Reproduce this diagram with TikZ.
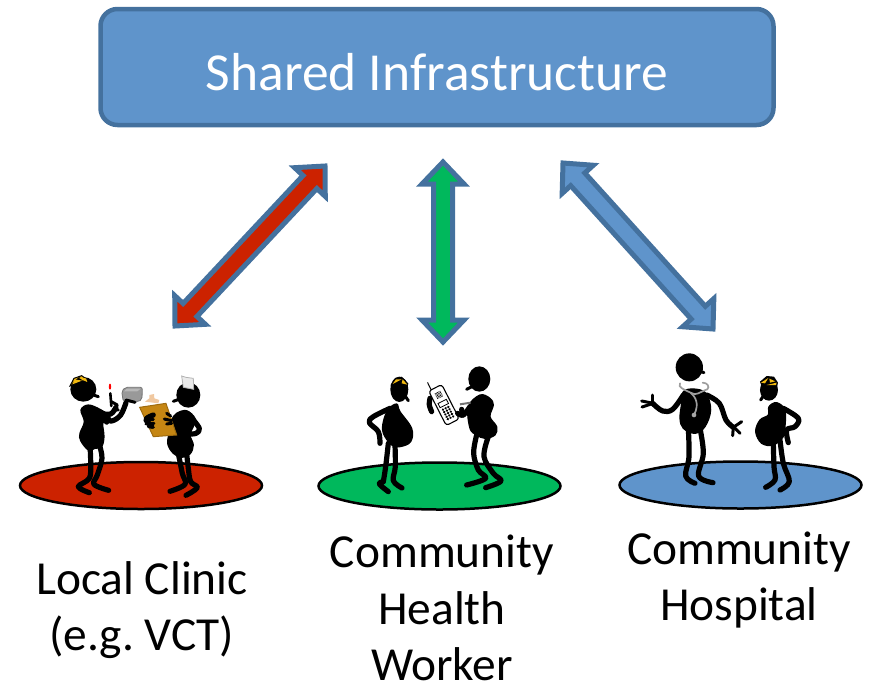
\documentclass[tikz,border=0pt]{standalone}
\usepackage{fontspec}
\setmainfont{Carlito}
\usetikzlibrary{calc,shapes.geometric}
\definecolor{boxblue}{HTML}{5F94CB}
\definecolor{edgeblue}{HTML}{44719E}
\definecolor{cred}{HTML}{CC2200}
\definecolor{cgreen}{HTML}{00B85C}
\definecolor{capy}{HTML}{F2B90F}
\definecolor{board}{HTML}{C58613}
\definecolor{peach}{HTML}{F0C8A0}
\tikzset{
  arrowline/.style={draw=edgeblue,line width=5pt,miter limit=10},
  disc/.style={draw=black,line width=2.5pt,ellipse,inner sep=0pt,minimum width=242pt,minimum height=47pt},
  limb/.style={line width=5.2pt,line cap=round,line join=round},
  thinlimb/.style={line width=3pt,line cap=round},
  steth/.style={draw=black!38,line width=1.7pt,line cap=round},
  lbl/.style={font=\fontsize{47.4}{56.5}\selectfont,align=center,text=black,inner sep=0pt},
}
\newcommand{\dblarrow}[3]{%
  \draw[arrowline,fill=#3] (#1)
    -- ($(#1)!22pt!(#2)!21pt!90:(#2)$)
    -- ($(#1)!22pt!(#2)!9.5pt!90:(#2)$)
    -- ($(#2)!22pt!(#1)!9.5pt!-90:(#1)$)
    -- ($(#2)!22pt!(#1)!21pt!-90:(#1)$)
    -- (#2)
    -- ($(#2)!22pt!(#1)!21pt!90:(#1)$)
    -- ($(#2)!22pt!(#1)!9.5pt!90:(#1)$)
    -- ($(#1)!22pt!(#2)!9.5pt!-90:(#2)$)
    -- ($(#1)!22pt!(#2)!21pt!-90:(#2)$)
    -- cycle;}
\newcommand{\limbs}[1]{\draw[limb] plot[smooth,tension=.6] coordinates {#1};}
\newcommand{\finger}[1]{\draw[thinlimb] plot[smooth,tension=.6] coordinates {#1};}
\newcommand{\blob}[1]{\filldraw[line width=1.2pt] plot[smooth cycle,tension=.6] coordinates {#1};}
\begin{document}
\frenchspacing
\begin{tikzpicture}[x=1pt,y=-1pt]
\useasboundingbox (0,0) rectangle (870,686);
\node[draw=edgeblue,fill=boxblue,line width=4.5pt,rounded corners=17pt,minimum width=673pt,minimum height=116pt,inner sep=0pt] (infra) at (437,67) {};
\node[font=\fontsize{53.5}{60}\selectfont,text=white,inner sep=0pt] (infratext) at (437,72) {Shared Infrastructure};

\coordinate (ra) at (325,166); \coordinate (rb) at (175,326);
\coordinate (ga) at (443,162); \coordinate (gb) at (443,342);
\coordinate (ba) at (563,163); \coordinate (bb) at (713,329);
\dblarrow{ra}{rb}{cred}
\dblarrow{ga}{gb}{cgreen}
\dblarrow{ba}{bb}{boxblue}

\node[disc,fill=cred] (d1) at (141,485.5) {};
\node[disc,fill=cgreen] (d2) at (439.5,486) {};
\node[disc,fill=boxblue] (d3) at (740.5,485) {};

% ---- Clinic figures
\begin{scope}[shift={(20,350)},x=.3333pt,y=-.3333pt]
  % grey box
  \fill[black!40,draw=black!55,line width=.8pt,rounded corners=2pt] (305,124)--(316,112)--(367,112)--(366,148)--(355,155)--(310,155)--cycle;
  \fill[black!28] (312,124)--(320,116)--(362,116)--(352,124)--cycle;
  % worker
  \fill (190,118) ellipse[x radius=39,y radius=37];
  \finger{(215,133) (235,140)}
  \blob{(183,180) (205,165) (240,178) (270,200) (262,222) (248,218) (252,260) (245,290) (225,295) (205,300) (182,272) (180,250) (193,215)}
  \limbs{(210,285) (212,340) (208,385) (175,410) (208,428)}
  \limbs{(238,285) (246,325) (232,375) (222,403) (266,421)}
  \limbs{(250,205) (275,213) (302,195) (318,158)}
  \limbs{(240,190) (272,192) (288,172)}
  \draw[line width=2.6pt,line cap=round] (271,130)--(274,168);
  \finger{(274,155) (292,165)}
  \finger{(280,178) (295,180)}
  \finger{(318,150) (345,157)}
  \fill[red] (270,110) ellipse[x radius=3.5,y radius=9];
  \fill[capy,draw=black,line width=1pt] (150,108)--(162,85)--(185,77)--(203,90)--(203,100)--(175,98)--cycle;
  \fill (165,98)--(200,88)--(203,100)--(175,108)--cycle;
  \fill (178,80)--(188,92)--(160,104)--(152,108)--(158,98)--cycle;
  \fill[capy] (157,103)--(186,92)--(165,88)--cycle;
  \fill[capy] (176,83)--(198,85)--(202,96)--(188,90)--cycle;
  % nurse
  \fill (505,135) ellipse[x radius=36,y radius=38];
  \finger{(460,154) (482,146)}
  \fill[black!8,draw=black!30,line width=.8pt] (485,78)--(498,82)--(520,85)--(521,118)--(490,112)--cycle;
  \blob{(470,190) (500,182) (525,205) (520,230) (510,255) (520,285) (510,312) (485,322) (460,310) (443,280) (450,240) (455,210)}
  \limbs{(512,200) (538,235) (528,250) (505,252)}
  \limbs{(475,310) (487,370) (495,403) (450,424)}
  \limbs{(500,310) (505,355) (512,395) (532,413) (498,436)}
  \fill[peach] (375,155)--(388,145)--(388,135)--(402,132)--(403,145)--(418,150)--(415,160)--cycle;
  \fill[board,draw=board!80!black,line width=1pt] (359,172)--(438,160)--(470,255)--(400,260)--cycle;
  \limbs{(400,195) (378,208) (395,228)}
  \finger{(375,212) (400,208)}
  \finger{(378,222) (402,220)}
  \finger{(385,230) (400,232)}
  \finger{(440,190) (452,198)}
  \finger{(433,207) (455,212)}
  \finger{(440,222) (455,220)}
\end{scope}

% ---- Community health worker figures
\begin{scope}[shift={(320,350)},x=.3333pt,y=-.3333pt]
  \fill (238,118) ellipse[x radius=27,y radius=38];
  \finger{(250,130) (265,152)}
  \fill (212,105)--(225,85)--(245,80)--(265,100)--(262,115)--(215,118)--cycle;
  \fill[capy] (218,102)--(245,88)--(228,88)--cycle;
  \fill[capy] (248,88)--(262,104)--(245,100)--cycle;
  \blob{(205,178) (230,162) (240,185) (275,235) (272,275) (240,290) (215,285) (190,250) (190,215)}
  \limbs{(210,175) (160,200) (148,218) (175,245) (180,280)}
  \limbs{(205,280) (197,350) (190,395)}
  \limbs{(190,395) (178,402) (205,425)}
  \limbs{(225,285) (226,350) (220,392) (246,414)}
  \fill (478,87) ellipse[x radius=33,y radius=38];
  \finger{(440,118) (465,105)}
  \blob{(445,170) (480,135) (510,145) (520,165) (510,200) (530,230) (525,255) (495,265) (470,255) (450,235)}
  \limbs{(470,255) (461,310) (475,360) (497,385) (440,405)}
  \limbs{(505,260) (492,320) (520,370) (543,393) (497,413)}
  \limbs{(330,145) (328,165) (335,185)}
  \draw[line width=1pt,line cap=round] (323,98)--(336,125);
  \begin{scope}[shift={(372,165)},rotate=27]
    \draw[fill=white,line width=1.1pt,rounded corners=3pt] (-22,-58) rectangle (22,58);
    \foreach \i in {-2,...,2} \foreach \j in {-2,...,2}
      \fill ({\i*4},{-34+\j*4}) circle[radius=.6pt];
    \draw[line width=.8pt] (-14,-12) rectangle (14,2);
    \foreach \i in {-1,0,1} \foreach \j in {0,...,4}
      \fill ({\i*9},{11+\j*8}) circle[radius=1.3pt];
  \end{scope}
  \limbs{(413,190) (430,195) (450,170)}
  \limbs{(425,178) (428,195)}
  \draw[black!55,line width=2pt] (420,163)--(452,158);
\end{scope}

% ---- Hospital figures
\begin{scope}[shift={(620,340)},x=.3333pt,y=-.3333pt]
  \fill (208,82) ellipse[x radius=41,y radius=42];
  \finger{(235,92) (252,98)}
  \blob{(190,155) (222,147) (258,160) (272,210) (255,260) (225,280) (190,265) (180,235) (185,190)}
  \limbs{(190,165) (158,208) (128,213) (98,190)}
  \finger{(100,190) (65,183)}
  \finger{(100,190) (66,201)}
  \finger{(98,190) (98,165)}
  \limbs{(260,165) (298,190) (318,240) (340,262)}
  \finger{(340,262) (365,245)}
  \finger{(340,262) (338,287)}
  \finger{(342,262) (360,280)}
  \limbs{(205,265) (207,350) (197,408) (225,430)}
  \limbs{(240,265) (250,340) (236,408) (279,428)}
  \draw[steth] (180,130) .. controls (172,142) and (195,150) .. (212,158) .. controls (228,170) and (240,155) .. (262,148) .. controls (270,140) and (262,128) .. (248,128);
  \draw[steth] (212,158) .. controls (225,170) and (240,190) .. (222,225);
  \fill[black!35] (222,225) circle[radius=7];
  \fill (447,150) ellipse[x radius=27,y radius=32];
  \finger{(422,180) (432,165)}
  \fill (420,125)--(440,108)--(462,110)--(474,128)--(470,145)--(425,140)--cycle;
  \fill[capy] (423,128)--(445,114)--(435,130)--cycle;
  \fill[capy] (448,116)--(466,124)--(450,128)--cycle;
  \fill[capy] (440,135)--(470,128)--(468,135)--cycle;
  \blob{(447,200) (470,188) (495,210) (495,260) (490,290) (460,315) (425,310) (407,275) (420,240) (445,225)}
  \limbs{(490,205) (535,235) (525,260) (500,270) (505,308)}
  \limbs{(460,310) (462,380) (465,420) (437,442)}
  \limbs{(480,300) (490,370) (508,425) (480,450)}
\end{scope}

\node[lbl] (l1) at (142,610) {Local Clinic\\(e.g. VCT)};
\node[lbl] (l2) at (442,608) {Community\\Health\\Worker};
\node[lbl] (l3) at (739,580) {Community\\Hospital};
\end{tikzpicture}
\end{document}
